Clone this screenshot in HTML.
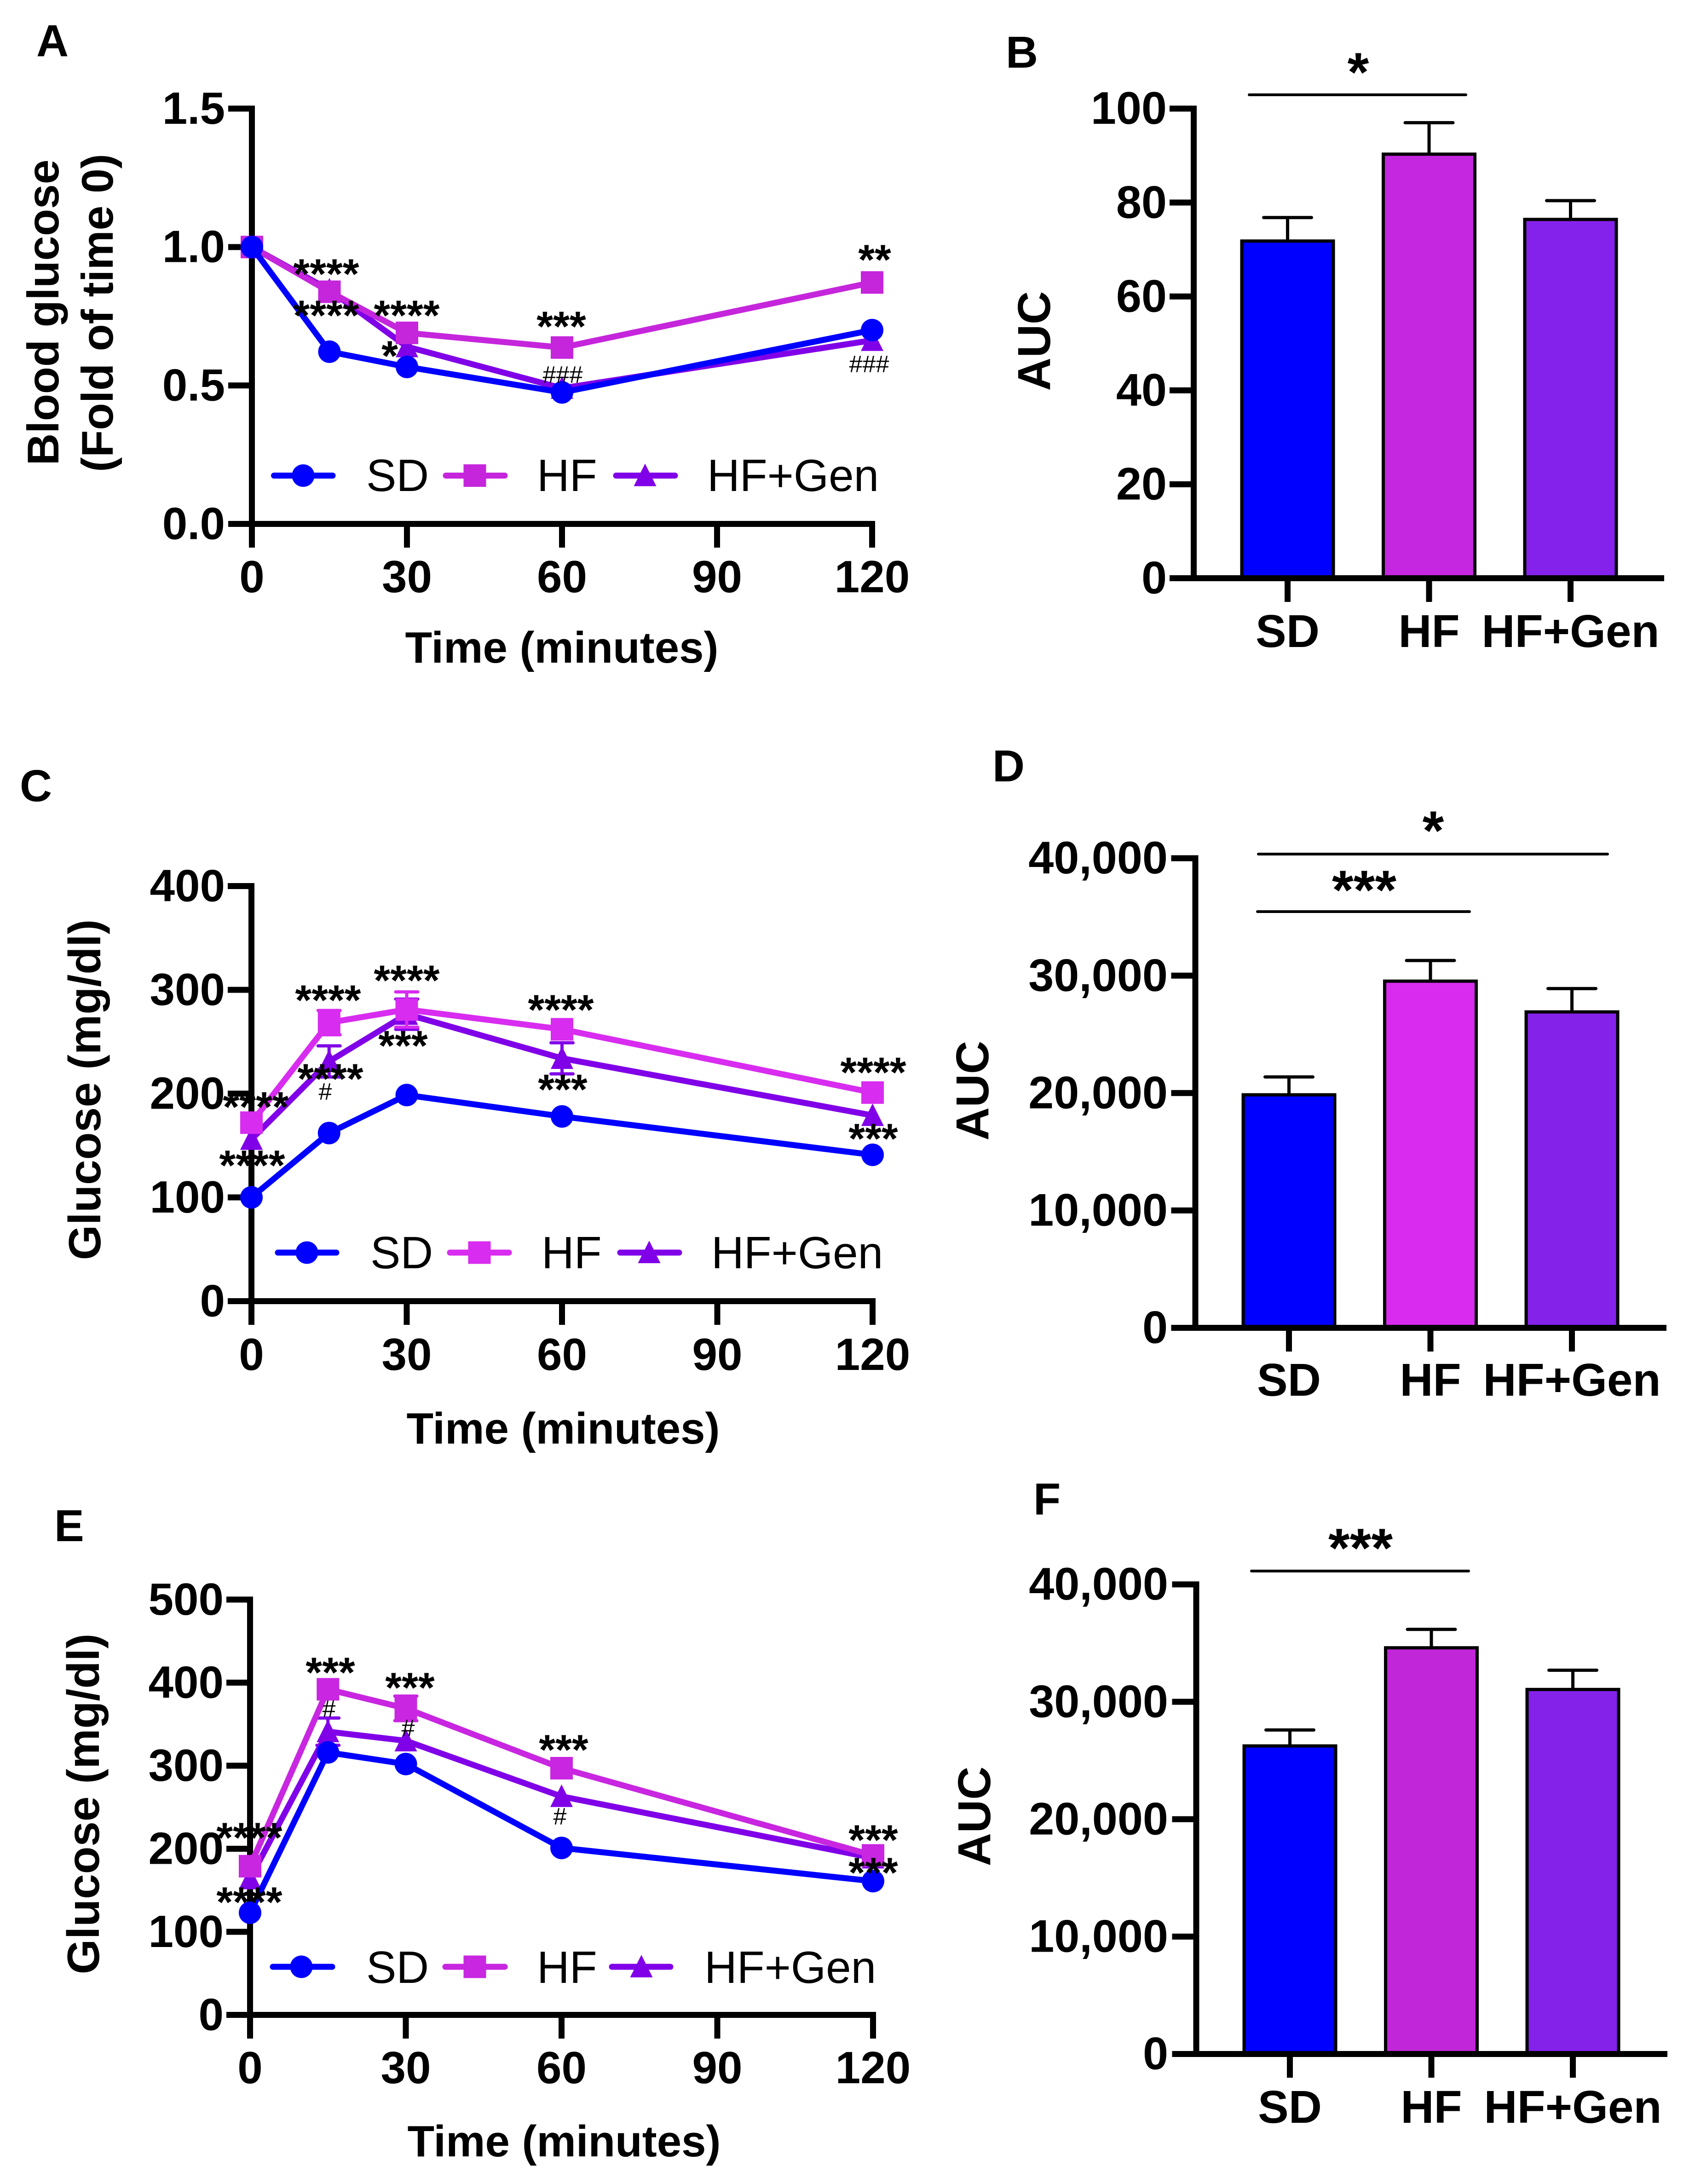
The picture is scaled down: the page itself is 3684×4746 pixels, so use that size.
<!DOCTYPE html>
<html lang="en">
<head>
<meta charset="utf-8">
<title>Glucose tolerance panels</title>
<style>
html,body{margin:0;padding:0;background:#fff;}
#figure{display:block;position:absolute;left:0;top:0;}
text{font-family:"Liberation Sans",Arial,sans-serif;fill:#000;}
.panel{font-size:97px;font-weight:700;}
.title{font-size:98px;font-weight:700;text-anchor:middle;}
.time{font-size:96px;}
.blood{font-size:96.5px;}
.auc{font-size:100px;font-weight:700;text-anchor:middle;}
.leg{font-size:98px;}
.st{font-size:92px;font-weight:700;text-anchor:middle;}
.stl{font-size:120px;font-weight:700;text-anchor:middle;}
.h{font-size:52px;text-anchor:middle;}
.sig{stroke:#000;stroke-width:6;stroke-linecap:round;fill:none;}
.ll{stroke-width:13;stroke-linecap:round;fill:none;}
</style>
</head>
<body>
<svg id="figure" width="3684" height="4746" viewBox="0 0 3684 4746">
<rect x="0" y="0" width="3684" height="4746" fill="#fff"/>

<!-- Panel A -->
<g id="panel-a">
  <text class="panel" x="79" y="122">A</text>
  <text class="title blood" transform="translate(127,679) rotate(-90)">Blood glucose</text>
  <text class="title blood" transform="translate(245,680) rotate(-90)">(Fold of time 0)</text>
  <text class="title time" x="1221" y="1440">Time (minutes)</text>
  <g id="marks-a"></g>
  <g>
    <text class="st" x="709" y="627">****</text>
    <text class="st" x="709" y="717">****</text>
    <text class="st" x="884" y="717">****</text>
    <text class="st" x="847" y="805">*</text>
    <text class="st" x="1220" y="741">***</text>
    <text class="st" x="1901" y="596">**</text>
    <text class="h" x="1223" y="832">###</text>
    <text class="h" x="1889" y="809">###</text>
  </g>
  <g>
    <g>
      <line class="ll" x1="595.5" y1="1033.5" x2="723" y2="1033.5" stroke="#0000ff"/>
      <circle cx="659" cy="1033.5" r="24.5" fill="#0000ff"/>
      <text class="leg" x="796" y="1067">SD</text>
    </g>
    <g>
      <line class="ll" x1="969" y1="1033.5" x2="1097" y2="1033.5" stroke="#c526dc"/>
      <rect x="1007.5" y="1009" width="49" height="49" fill="#c526dc"/>
      <text class="leg" x="1167" y="1067">HF</text>
    </g>
    <g>
      <line class="ll" x1="1339" y1="1033.5" x2="1467" y2="1033.5" stroke="#8000e8"/>
      <polygon points="1402,1007.5 1426.5,1056.5 1377.5,1056.5" fill="#8000e8"/>
      <text class="leg" x="1537" y="1067">HF+Gen</text>
    </g>
  </g>
</g>

<!-- Panel B -->
<g id="panel-b">
  <text class="panel" x="2186" y="147">B</text>
  <text class="auc" transform="translate(2282,741) rotate(-90)">AUC</text>
  <g id="marks-b"></g>
  <g>
    <line class="sig" x1="2715" y1="206" x2="3186" y2="206"/>
    <text class="stl" x="2952" y="198">*</text>
  </g>
</g>

<!-- Panel C -->
<g id="panel-c">
  <text class="panel" x="43" y="1741">C</text>
  <text class="title" transform="translate(218,2368) rotate(-90)">Glucose (mg/dl)</text>
  <text class="title time" x="1224" y="3137">Time (minutes)</text>
  <g id="marks-c"></g>
  <g>
    <text class="st" x="713" y="2205">****</text>
    <text class="st" x="876" y="2304">***</text>
    <text class="st" x="884" y="2162">****</text>
    <text class="st" x="1219" y="2226">****</text>
    <text class="st" x="1223" y="2399">***</text>
    <text class="st" x="1898" y="2362">****</text>
    <text class="st" x="1898" y="2506">***</text>
    <text class="st" x="556" y="2437">****</text>
    <text class="st" x="548" y="2564">****</text>
    <text class="st" x="718" y="2376">****</text>
    <text class="h" x="707" y="2390">#</text>
  </g>
  <g>
    <g>
      <line class="ll" x1="604" y1="2722" x2="731" y2="2722" stroke="#0000ff"/>
      <circle cx="667" cy="2722" r="24.5" fill="#0000ff"/>
      <text class="leg" x="805" y="2756">SD</text>
    </g>
    <g>
      <line class="ll" x1="978" y1="2722" x2="1106" y2="2722" stroke="#d82cf0"/>
      <rect x="1017.5" y="2697.5" width="49" height="49" fill="#d82cf0"/>
      <text class="leg" x="1177" y="2756">HF</text>
    </g>
    <g>
      <line class="ll" x1="1348" y1="2722" x2="1476" y2="2722" stroke="#8000e8"/>
      <polygon points="1411,2696 1435.5,2745 1386.5,2745" fill="#8000e8"/>
      <text class="leg" x="1546" y="2756">HF+Gen</text>
    </g>
  </g>
</g>

<!-- Panel D -->
<g id="panel-d">
  <text class="panel" x="2157" y="1698">D</text>
  <text class="auc" transform="translate(2148,2370) rotate(-90)">AUC</text>
  <g id="marks-d"></g>
  <g>
    <line class="sig" x1="2735" y1="1856" x2="3494" y2="1856"/>
    <text class="stl" x="3115" y="1846">*</text>
    <line class="sig" x1="2733" y1="1981" x2="3194" y2="1981"/>
    <text class="stl" x="2965" y="1975">***</text>
  </g>
</g>

<!-- Panel E -->
<g id="panel-e">
  <text class="panel" x="118" y="3349">E</text>
  <text class="title" transform="translate(215,3920) rotate(-90)">Glucose (mg/dl)</text>
  <text class="title time" x="1226" y="4686">Time (minutes)</text>
  <g id="marks-e"></g>
  <g>
    <text class="st" x="718" y="3666">***</text>
    <text class="st" x="891" y="3699">***</text>
    <text class="st" x="1225" y="3834">***</text>
    <text class="st" x="1898" y="4030">***</text>
    <text class="st" x="1898" y="4101">***</text>
    <text class="st" x="542" y="4025">****</text>
    <text class="st" x="542" y="4165">****</text>
    <text class="h" x="715" y="3731">#</text>
    <text class="h" x="887" y="3773">#</text>
    <text class="h" x="1217" y="3965">#</text>
  </g>
  <g>
    <g>
      <line class="ll" x1="593" y1="4274" x2="722" y2="4274" stroke="#0000ff"/>
      <circle cx="655" cy="4274" r="24.5" fill="#0000ff"/>
      <text class="leg" x="796" y="4309">SD</text>
    </g>
    <g>
      <line class="ll" x1="968" y1="4274" x2="1097" y2="4274" stroke="#c826e0"/>
      <rect x="1007.5" y="4249.5" width="49" height="49" fill="#c826e0"/>
      <text class="leg" x="1167" y="4309">HF</text>
    </g>
    <g>
      <line class="ll" x1="1330" y1="4274" x2="1457" y2="4274" stroke="#8000e8"/>
      <polygon points="1394,4248 1418.5,4297 1369.5,4297" fill="#8000e8"/>
      <text class="leg" x="1531" y="4309">HF+Gen</text>
    </g>
  </g>
</g>

<!-- Panel F -->
<g id="panel-f">
  <text class="panel" x="2246" y="3291">F</text>
  <text class="auc" transform="translate(2152,3947) rotate(-90)">AUC</text>
  <g id="marks-f"></g>
  <g>
    <line class="sig" x1="2720" y1="3414" x2="3192" y2="3414"/>
    <text class="stl" x="2957" y="3405">***</text>
  </g>
</g>
</svg>

<script>
// ---------- Shared categories ----------
const minutes = [0, 15, 30, 60, 120];
const minuteTicks = [0, 30, 60, 90, 120];
const barCategories = ['SD', 'HF', 'HF+Gen'];

// ---------- Panel A values ----------
const aTicks = [0, 0.5, 1, 1.5];
const aTickLabels = ['0.0', '0.5', '1.0', '1.5'];
const aSD = [1.0, 0.622, 0.567, 0.475, 0.70];
const aHF = [1.0, 0.8385, 0.69, 0.637, 0.872];
const aGen = [1.0, 0.845, 0.64, 0.49, 0.663];
const aSDErr = [0, 0, 0, 0, 0];
const aHFErr = [0, 0, 0, 0, 0];
const aGenErr = [0, 0, 0, 0, 0];

// ---------- Panel C values ----------
const cTicks = [0, 100, 200, 300, 400];
const cTickLabels = ['0', '100', '200', '300', '400'];
const cSD = [100, 162, 198.6, 178, 141];
const cHF = [172, 268.4, 281, 262, 201];
const cGen = [156, 231, 276.5, 234, 179];
const cSDErr = [0, 0, 0, 0, 0];
const cHFErr = [0, 11.7, 17, 0, 0];
const cGenErr = [0, 15, 14.6, 15, 0];

// ---------- Panel E values ----------
const eTicks = [0, 100, 200, 300, 400, 500];
const eTickLabels = ['0', '100', '200', '300', '400', '500'];
const eSD = [123, 316, 302, 201, 161];
const eHF = [179, 392, 369, 297, 192];
const eGen = [164, 341, 330, 263, 189];
const eSDErr = [0, 0, 0, 0, 0];
const eHFErr = [0, 0, 14.8, 0, 0];
const eGenErr = [0, 16.4, 0, 0, 0];

// ---------- Panel B values ----------
const bTicks = [0, 20, 40, 60, 80, 100];
const bTickLabels = ['0', '20', '40', '60', '80', '100'];
const bMeans = [71.8, 90.3, 76.4];
const bErrs = [5.0, 6.7, 4.0];

// ---------- Panel D values ----------
const dTicks = [0, 10000, 20000, 30000, 40000];
const dTickLabels = ['0', '10,000', '20,000', '30,000', '40,000'];
const dMeans = [19850, 29530, 26910];
const dErrs = [1520, 1760, 1990];

// ---------- Panel F values ----------
const fTicks = [0, 10000, 20000, 30000, 40000];
const fTickLabels = ['0', '10,000', '20,000', '30,000', '40,000'];
const fMeans = [26240, 34600, 31050];
const fErrs = [1360, 1570, 1640];

const svgRoot = document.getElementById('figure');
const svgNS = svgRoot.namespaceURI;

function add(parent, tag, attrs) {
  const el = document.createElementNS(svgNS, tag);
  for (const k in attrs) el.setAttribute(k, attrs[k]);
  parent.appendChild(el);
  return el;
}

function drawYAxis(g, axisX, tickLeft, labelRight, y, ticks, labels, fontSize) {
  const top = y(ticks[ticks.length - 1]);
  const bottom = y(ticks[0]);
  const spine = add(g, 'line', {x1: axisX, x2: axisX, y1: top - 6.5, y2: bottom + 6.5, stroke: '#000', 'stroke-width': 13});
  
  
  ticks.forEach(function (t, i) {
    const tick = add(g, 'line', {x1: tickLeft, x2: axisX, y1: y(t), y2: y(t), stroke: '#000', 'stroke-width': 13});
    
    
    const label = add(g, 'text', {x: labelRight, y: y(t) + fontSize * 0.335, 'text-anchor': 'end', 'font-size': fontSize, 'font-weight': 700});
    
    
    label.textContent = labels[i];
  });
}

function drawLinePanel(id, cfg, sd, hf, gen, sdErr, hfErr, genErr, yTicks, yLabels) {
  const g = document.getElementById(id);
  const x = function (m) { return cfg.x0 + (cfg.x120 - cfg.x0) * m / 120; };
  const y = function (v) { return cfg.yZero - (cfg.yZero - cfg.yTop) * v / yTicks[yTicks.length - 1]; };

  drawYAxis(g, cfg.x0, cfg.x0 - 51.5, cfg.labelRight, y, yTicks, yLabels, 98);

  const xLine = add(g, 'line', {x1: cfg.x0 - 51.5, x2: x(120) + 6.5, y1: cfg.yZero, y2: cfg.yZero, stroke: '#000', 'stroke-width': 13});
  
  

  minuteTicks.forEach(function (m) {
    const tick = add(g, 'line', {x1: x(m), x2: x(m), y1: cfg.yZero, y2: cfg.yZero + 51.5, stroke: '#000', 'stroke-width': 13});
    
    
    const label = add(g, 'text', {x: x(m), y: cfg.xLabelY, 'text-anchor': 'middle', 'font-size': 98, 'font-weight': 700});
    
    
    label.textContent = String(m);
  });

  const series = [
    {key: 'hf-gen', vals: gen, errs: genErr, color: cfg.genColor, marker: 'triangle'},
    {key: 'hf', vals: hf, errs: hfErr, color: cfg.hfColor, marker: 'square'},
    {key: 'sd', vals: sd, errs: sdErr, color: '#0000ff', marker: 'circle'}
  ];

  series.forEach(function (s) {
    const sg = add(g, 'g', {});
    
    

    minutes.forEach(function (m, i) {
      if (!s.errs[i]) return;
      const top = y(s.vals[i] + s.errs[i]);
      const bot = y(s.vals[i] - s.errs[i]);
      const stem = add(sg, 'path', {
        d: 'M' + (x(m) - 24) + ' ' + top + 'H' + (x(m) + 24) + 'M' + x(m) + ' ' + top + 'V' + bot + 'M' + (x(m) - 24) + ' ' + bot + 'H' + (x(m) + 24),
        stroke: s.color, 'stroke-width': 7, 'stroke-linecap': 'round', fill: 'none'
      });
      
      
    });

    const pts = minutes.map(function (m, i) { return x(m) + ',' + y(s.vals[i]); }).join(' ');
    const line = add(sg, 'polyline', {points: pts, fill: 'none', stroke: s.color, 'stroke-width': 13, 'stroke-linejoin': 'round', 'stroke-linecap': 'round'});
    
    

    minutes.forEach(function (m, i) {
      const cx = x(m), cy = y(s.vals[i]);
      let mark;
      if (s.marker === 'circle') {
        mark = add(sg, 'circle', {cx: cx, cy: cy, r: 24.5, fill: s.color});
      } else if (s.marker === 'square') {
        mark = add(sg, 'rect', {x: cx - 24.5, y: cy - 24.5, width: 49, height: 49, fill: s.color});
      } else {
        mark = add(sg, 'polygon', {points: cx + ',' + (cy - 26) + ' ' + (cx + 24.5) + ',' + (cy + 23) + ' ' + (cx - 24.5) + ',' + (cy + 23), fill: s.color});
      }
      
      
    });
  });
}

function drawBarPanel(id, cfg, means, errs, yTicks, yLabels) {
  const g = document.getElementById(id);
  const y = function (v) { return cfg.yZero - (cfg.yZero - cfg.yTop) * v / yTicks[yTicks.length - 1]; };

  barCategories.forEach(function (name, i) {
    const cx = cfg.first + cfg.step * i;
    const top = y(means[i]);
    const errTop = y(means[i] + errs[i]);
    const stem = add(g, 'path', {
      d: 'M' + cx + ' ' + top + 'V' + errTop + 'M' + (cx - 52) + ' ' + errTop + 'H' + (cx + 52),
      stroke: '#000', 'stroke-width': 7, 'stroke-linecap': 'round', fill: 'none'
    });
    
    

    const bar = add(g, 'rect', {x: cx - 99.5, y: top, width: 199, height: cfg.yZero - top, fill: cfg.colors[i], stroke: '#000', 'stroke-width': 7});
    
    

    const tick = add(g, 'line', {x1: cx, x2: cx, y1: cfg.yZero, y2: cfg.yZero + 51.5, stroke: '#000', 'stroke-width': 13});
    
    

    const label = add(g, 'text', {x: cx, y: cfg.xLabelY, 'text-anchor': 'middle', 'font-size': 100, 'font-weight': 700});
    
    
    label.textContent = name;
  });

  drawYAxis(g, cfg.axisX, cfg.axisX - 52.5, cfg.labelRight, y, yTicks, yLabels, cfg.labelSize);

  const xLine = add(g, 'line', {x1: cfg.axisX - 52.5, x2: cfg.xEnd, y1: cfg.yZero, y2: cfg.yZero, stroke: '#000', 'stroke-width': 13});
  
  
}

drawLinePanel('marks-a',
  {x0: 547.5, x120: 1895.5, yZero: 1138.5, yTop: 236, labelRight: 489, xLabelY: 1287, hfColor: '#c526dc', genColor: '#8000e8'},
  aSD, aHF, aGen, aSDErr, aHFErr, aGenErr, aTicks, aTickLabels);
drawLinePanel('marks-c',
  {x0: 546.5, x120: 1896.5, yZero: 2827.5, yTop: 1925.5, labelRight: 489, xLabelY: 2977, hfColor: '#d82cf0', genColor: '#8000e8'},
  cSD, cHF, cGen, cSDErr, cHFErr, cGenErr, cTicks, cTickLabels);
drawLinePanel('marks-e',
  {x0: 543.5, x120: 1897.5, yZero: 4378.5, yTop: 3476, labelRight: 486, xLabelY: 4527, hfColor: '#c826e0', genColor: '#8000e8'},
  eSD, eHF, eGen, eSDErr, eHFErr, eGenErr, eTicks, eTickLabels);

drawBarPanel('marks-b',
  {axisX: 2594.5, xEnd: 3617, yZero: 1256.5, yTop: 236, first: 2798.5, step: 307.5, labelRight: 2536, labelSize: 99, xLabelY: 1406, colors: ['#0000ff', '#c526df', '#8422eb']},
  bMeans, bErrs, bTicks, bTickLabels);
drawBarPanel('marks-d',
  {axisX: 2598, xEnd: 3622, yZero: 2885.5, yTop: 1865, first: 2801.5, step: 307.5, labelRight: 2538, labelSize: 99, xLabelY: 3033, colors: ['#0000ff', '#d92bf0', '#8422ea']},
  dMeans, dErrs, dTicks, dTickLabels);
drawBarPanel('marks-f',
  {axisX: 2600, xEnd: 3624, yZero: 4463.5, yTop: 3443, first: 2803.5, step: 307.5, labelRight: 2539, labelSize: 99, xLabelY: 4613, colors: ['#0000ff', '#c126d8', '#8422ea']},
  fMeans, fErrs, fTicks, fTickLabels);
</script>
</body>
</html>
